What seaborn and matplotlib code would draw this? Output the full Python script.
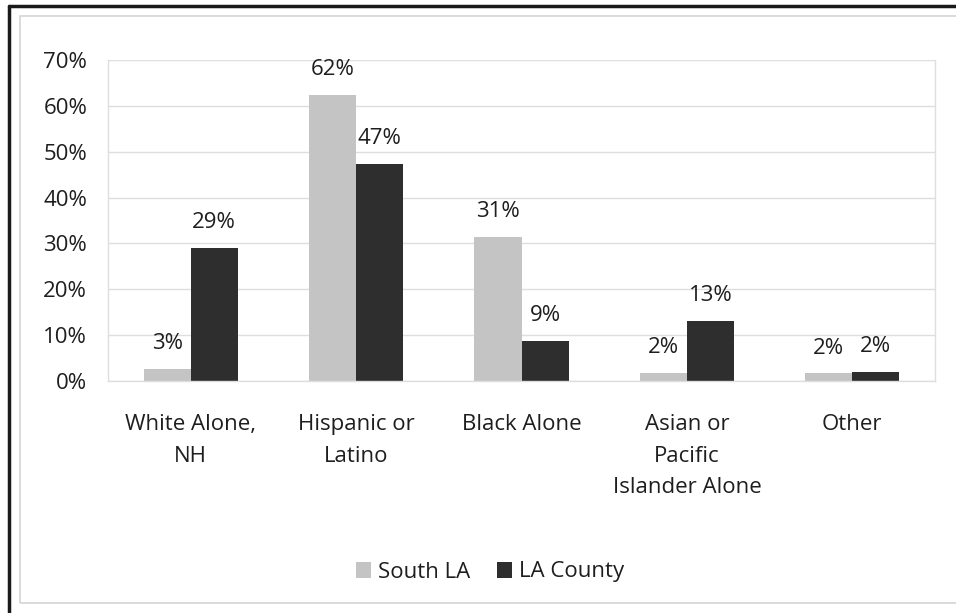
import matplotlib
matplotlib.use("Agg")
import matplotlib.pyplot as plt
from matplotlib.lines import Line2D
from matplotlib.patches import Rectangle
from matplotlib.ticker import FixedLocator
import seaborn as sns
import pandas as pd

# Share of population by race/ethnicity (percent)
groups = ["White Alone,\nNH", "Hispanic or\nLatino", "Black Alone",
          "Asian or\nPacific\nIslander Alone", "Other"]
areas = ["South LA", "LA County"]
south_la = [2.6, 62.4, 31.4, 1.8, 1.7]
la_county = [29.1, 47.4, 8.8, 13.1, 2.0]
y_ticks = [0, 10, 20, 30, 40, 50, 60, 70]

light = "#c4c4c4"
dark = "#2f2e2e"
text_color = "#1e1e1e"
grid_color = "#dedede"

df = pd.DataFrame({
    "group": groups * 2,
    "area": [areas[0]] * len(groups) + [areas[1]] * len(groups),
    "value": south_la + la_county,
})

sns.set_theme(style="white")
plt.rcParams["font.family"] = ["Open Sans", "DejaVu Sans"]

W, H = 956, 613
fig = plt.figure(figsize=(W / 100, H / 100), dpi=100)
ax = fig.add_axes([108 / W, 1 - 381 / H, (935 - 108) / W, (381 - 60) / H])

sns.barplot(data=df, x="group", y="value", hue="area", order=groups,
            hue_order=areas, palette=[light, dark], width=0.57,
            saturation=1, edgecolor="none", linewidth=0, ax=ax)

# value labels above each bar
for cont, vals in zip(ax.containers, [south_la, la_county]):
    ax.bar_label(cont, labels=[f"{v:.0f}%" for v in vals], padding=10.5,
                 fontsize=16, color=text_color)

ax.set_ylim(0, 70)
ax.set_xlim(-0.5, len(groups) - 0.5)
ax.set_yticks(y_ticks)
ax.set_yticklabels([f"{t}%" for t in y_ticks])
ax.set_xlabel("")
ax.set_ylabel("")
ax.tick_params(axis="y", length=0, pad=15, labelsize=16, labelcolor=text_color)
ax.tick_params(axis="x", which="major", length=0, pad=24, labelsize=16,
               labelcolor=text_color)
for lbl in ax.get_xticklabels():
    lbl.set_linespacing(1.65)
# small ticks at the category boundaries
ax.xaxis.set_minor_locator(FixedLocator([i - 0.5 for i in range(len(groups) + 1)]))
ax.tick_params(axis="x", which="minor", length=6, width=1, color=grid_color,
               direction="out")

ax.yaxis.grid(True, color=grid_color, linewidth=1)
ax.set_axisbelow(True)
for side in ["left", "right", "bottom"]:
    ax.spines[side].set_visible(True)
    ax.spines[side].set_color(grid_color)
    ax.spines[side].set_linewidth(1)
ax.spines["top"].set_visible(False)

handles, labels = ax.get_legend_handles_labels()
if ax.legend_ is not None:
    ax.legend_.remove()
fig.legend(handles, labels, loc="center", bbox_to_anchor=(490 / W, 1 - 572 / H),
           ncol=2, frameon=False, fontsize=16, handlelength=0.7,
           handleheight=0.7, handletextpad=0.3, columnspacing=1.2,
           labelcolor=text_color)

# frame around the figure
fig.add_artist(Rectangle((20 / W, 1 - 603 / H), (W + 5 - 20) / W, (603 - 16) / H,
                         transform=fig.transFigure, fill=False,
                         edgecolor="#d4d4d4", linewidth=1.2))
fig.add_artist(Line2D([9 / W, 1], [1 - 5.5 / H, 1 - 5.5 / H],
                      transform=fig.transFigure, color="#1a1a1a", linewidth=2.5))
fig.add_artist(Line2D([9 / W, 9 / W], [0, 1 - 5.5 / H],
                      transform=fig.transFigure, color="#1a1a1a", linewidth=2.5))

fig.savefig("out.png", dpi=100, facecolor="white")
